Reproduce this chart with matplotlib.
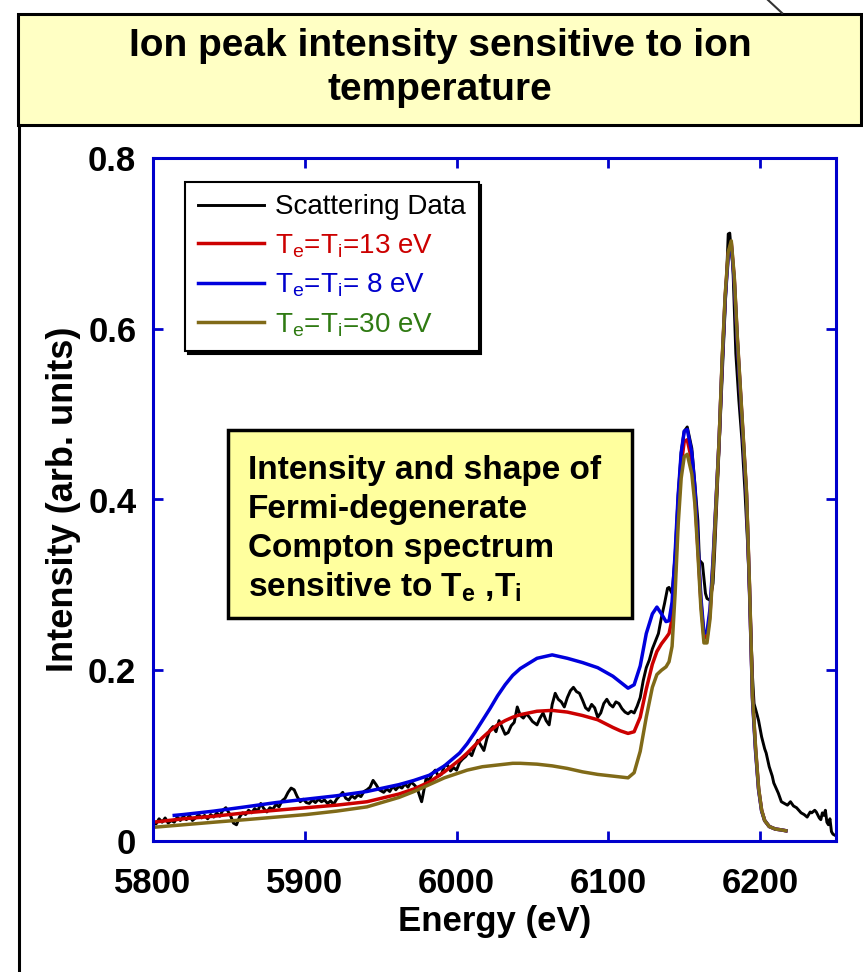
import matplotlib
matplotlib.use('Agg')
import matplotlib.pyplot as plt
from matplotlib.patches import Rectangle
from matplotlib.lines import Line2D

plt.rcParams['font.family'] = 'Liberation Sans'
plt.rcParams['mathtext.fontset'] = 'custom'
plt.rcParams['mathtext.rm'] = 'Liberation Sans'
plt.rcParams['mathtext.bf'] = 'Liberation Sans:bold'

# measured spectrum (eV, arb. units)
energy_data = [
    5800, 5802, 5804, 5806, 5808, 5810, 5812, 5814, 5816, 5818, 5820, 5822, 5824, 5826, 5828,
    5830, 5832, 5834, 5836, 5838, 5840, 5842, 5844, 5846, 5848, 5851, 5853, 5855, 5857, 5859,
    5861, 5863, 5865, 5867, 5869, 5871, 5873, 5875, 5877, 5879, 5881, 5883, 5885, 5887, 5889,
    5891, 5893, 5895, 5897, 5899, 5901, 5903, 5905, 5907, 5909, 5911, 5913, 5915, 5917, 5919,
    5921, 5923, 5925, 5927, 5929, 5931, 5933, 5935, 5937, 5939, 5941, 5943, 5945, 5947, 5949,
    5952, 5954, 5956, 5958, 5960, 5962, 5964, 5966, 5968, 5970, 5972, 5974, 5976, 5977, 5978,
    5980, 5982, 5984, 5986, 5988, 5990, 5992, 5994, 5996, 5998, 6000, 6002, 6004, 6006, 6008,
    6010, 6012, 6014, 6016, 6018, 6020, 6022, 6024, 6026, 6028, 6030, 6032, 6034, 6036, 6038,
    6040, 6042, 6044, 6046, 6048, 6050, 6053, 6055, 6057, 6059, 6061, 6063, 6065, 6067, 6069,
    6071, 6073, 6075, 6077, 6079, 6081, 6083, 6085, 6087, 6089, 6091, 6093, 6095, 6097, 6099,
    6101, 6103, 6105, 6107, 6109, 6111, 6113, 6115, 6117, 6119, 6121, 6123, 6125, 6127, 6129,
    6131, 6133, 6135, 6137, 6139, 6140, 6142, 6144, 6146, 6148, 6150, 6152, 6155, 6157, 6159,
    6160, 6162, 6164, 6165, 6167, 6169, 6170, 6172, 6174, 6176, 6178, 6179, 6180, 6181, 6182,
    6184, 6186, 6188, 6190, 6192, 6194, 6195, 6196, 6198, 6199, 6201, 6203, 6204, 6206, 6208,
    6209, 6211, 6212, 6214, 6216, 6218, 6220, 6222, 6224, 6226, 6227, 6229, 6231, 6233, 6234,
    6236, 6237, 6239, 6240, 6241, 6242, 6243, 6244, 6245, 6246, 6247, 6248, 6250, 6252]
intensity_data = [
    0.024, 0.020, 0.026, 0.022, 0.027, 0.021, 0.024, 0.022, 0.028, 0.024, 0.029, 0.025, 0.030, 0.024, 0.027,
    0.031, 0.027, 0.030, 0.026, 0.031, 0.028, 0.033, 0.029, 0.036, 0.039, 0.030, 0.021, 0.019, 0.028, 0.033,
    0.031, 0.036, 0.033, 0.038, 0.035, 0.044, 0.038, 0.034, 0.039, 0.037, 0.043, 0.040, 0.047, 0.050, 0.057,
    0.062, 0.060, 0.052, 0.046, 0.049, 0.045, 0.044, 0.048, 0.045, 0.049, 0.046, 0.048, 0.044, 0.047, 0.043,
    0.049, 0.053, 0.057, 0.050, 0.048, 0.053, 0.050, 0.054, 0.052, 0.058, 0.060, 0.063, 0.071, 0.066, 0.060,
    0.057, 0.061, 0.058, 0.064, 0.060, 0.064, 0.062, 0.067, 0.063, 0.069, 0.066, 0.062, 0.051, 0.046, 0.055,
    0.074, 0.071, 0.079, 0.083, 0.076, 0.078, 0.088, 0.089, 0.082, 0.086, 0.083, 0.092, 0.096, 0.099, 0.104,
    0.100, 0.110, 0.118, 0.112, 0.106, 0.120, 0.130, 0.134, 0.128, 0.141, 0.133, 0.125, 0.127, 0.135, 0.139,
    0.157, 0.147, 0.144, 0.149, 0.145, 0.140, 0.136, 0.144, 0.150, 0.141, 0.136, 0.160, 0.173, 0.166, 0.163,
    0.157, 0.168, 0.176, 0.180, 0.175, 0.173, 0.165, 0.156, 0.153, 0.160, 0.156, 0.145, 0.150, 0.161, 0.166,
    0.160, 0.157, 0.163, 0.161, 0.155, 0.151, 0.149, 0.152, 0.150, 0.158, 0.168, 0.188, 0.203, 0.212, 0.225,
    0.234, 0.243, 0.262, 0.278, 0.296, 0.297, 0.290, 0.335, 0.405, 0.455, 0.480, 0.485, 0.460, 0.419, 0.375,
    0.329, 0.325, 0.290, 0.284, 0.282, 0.302, 0.337, 0.420, 0.500, 0.585, 0.665, 0.711, 0.712, 0.690, 0.676,
    0.571, 0.516, 0.470, 0.410, 0.340, 0.240, 0.192, 0.161, 0.148, 0.141, 0.122, 0.108, 0.103, 0.087, 0.076,
    0.068, 0.060, 0.056, 0.046, 0.044, 0.042, 0.046, 0.041, 0.039, 0.035, 0.033, 0.031, 0.028, 0.034, 0.033,
    0.036, 0.034, 0.027, 0.025, 0.033, 0.030, 0.036, 0.022, 0.019, 0.026, 0.011, 0.008, 0.006, 0.004]

# calculated spectra, Te = Ti = 13, 8 and 30 eV
energy_fit = [
    5800, 5820, 5840, 5861, 5881, 5901, 5921, 5941, 5962, 5972, 5982, 5992, 6002, 6007, 6012,
    6017, 6022, 6027, 6032, 6037, 6042, 6053, 6063, 6073, 6083, 6093, 6103, 6108, 6113, 6117,
    6121, 6125, 6129, 6132, 6135, 6138, 6140, 6142, 6144, 6146, 6148, 6150, 6152, 6155, 6157,
    6159, 6161, 6163, 6165, 6167, 6169, 6171, 6173, 6175, 6177, 6179, 6181, 6183, 6185, 6187,
    6189, 6191, 6193, 6195, 6197, 6199, 6201, 6203, 6206, 6210, 6214, 6217]
fit_13ev = [
    0.022, 0.026, 0.029, 0.033, 0.036, 0.039, 0.042, 0.046, 0.055, 0.061, 0.069, 0.081, 0.095, 0.103, 0.112,
    0.121, 0.129, 0.136, 0.141, 0.145, 0.148, 0.152, 0.153, 0.151, 0.147, 0.142, 0.133, 0.129, 0.126, 0.128,
    0.145, 0.178, 0.207, 0.222, 0.231, 0.238, 0.243, 0.260, 0.310, 0.385, 0.440, 0.468, 0.470, 0.445, 0.405,
    0.343, 0.280, 0.238, 0.238, 0.266, 0.325, 0.398, 0.470, 0.562, 0.638, 0.688, 0.701, 0.658, 0.588, 0.528,
    0.468, 0.408, 0.298, 0.168, 0.108, 0.061, 0.036, 0.024, 0.017, 0.014, 0.013, 0.012]
energy_fit_8ev = [5814] + energy_fit[1:]
fit_8ev = [
    0.030, 0.031, 0.035, 0.040, 0.045, 0.049, 0.053, 0.058, 0.066, 0.071, 0.077, 0.088, 0.103, 0.114, 0.127,
    0.141, 0.155, 0.170, 0.183, 0.194, 0.202, 0.214, 0.218, 0.214, 0.209, 0.203, 0.193, 0.186, 0.179, 0.183,
    0.205, 0.243, 0.266, 0.274, 0.266, 0.257, 0.258, 0.280, 0.337, 0.405, 0.455, 0.480, 0.482, 0.455, 0.414,
    0.350, 0.285, 0.243, 0.245, 0.272, 0.330, 0.400, 0.470, 0.560, 0.635, 0.685, 0.698, 0.655, 0.585, 0.525,
    0.465, 0.405, 0.295, 0.165, 0.105, 0.060, 0.035, 0.024, 0.017, 0.014, 0.013, 0.012]
fit_30ev = [
    0.016, 0.019, 0.022, 0.025, 0.028, 0.031, 0.035, 0.040, 0.051, 0.058, 0.066, 0.074, 0.080, 0.083, 0.085,
    0.087, 0.088, 0.089, 0.090, 0.091, 0.091, 0.090, 0.088, 0.085, 0.081, 0.078, 0.076, 0.075, 0.074, 0.080,
    0.105, 0.145, 0.180, 0.195, 0.200, 0.204, 0.210, 0.228, 0.290, 0.370, 0.425, 0.450, 0.453, 0.430, 0.395,
    0.337, 0.272, 0.232, 0.232, 0.260, 0.320, 0.395, 0.470, 0.565, 0.640, 0.690, 0.703, 0.660, 0.590, 0.530,
    0.470, 0.410, 0.300, 0.170, 0.110, 0.062, 0.036, 0.024, 0.017, 0.014, 0.013, 0.012]

labels = ['Scattering Data',
          r'T$_\mathrm{e}$=T$_\mathrm{i}$=13 eV',
          r'T$_\mathrm{e}$=T$_\mathrm{i}$= 8 eV',
          r'T$_\mathrm{e}$=T$_\mathrm{i}$=30 eV']
line_colors = ['black', '#CC0000', '#0000DD', '#806A18']
text_colors = ['black', '#CC0000', '#0000CC', '#2F7A12']

W, H = 863, 972
fig = plt.figure(figsize=(W / 100, H / 100), dpi=100)


def fx(px):
    return px / W


def fy(py):
    return 1 - py / H


# title banner and page frame
fig.add_artist(Rectangle((fx(18), fy(125)), fx(861) - fx(18), fy(14) - fy(125),
                         transform=fig.transFigure, facecolor='#FFFFC4', edgecolor='black', lw=2.2))
fig.add_artist(Line2D([fx(19), fx(19)], [fy(125), 0], color='black', lw=2.2))
fig.add_artist(Line2D([fx(768), fx(782)], [1, fy(13)], color='#333333', lw=1.5))
fig.text(fx(440), fy(68), 'Ion peak intensity sensitive to ion\ntemperature',
         ha='center', va='center', fontsize=28, fontweight='bold', linespacing=1.3)

ax = fig.add_axes([fx(153), fy(841), fx(836) - fx(153), fy(158) - fy(841)])

ax.plot(energy_data, intensity_data, color=line_colors[0], lw=2.1, label=labels[0])
ax.plot(energy_fit, fit_13ev, color=line_colors[1], lw=2.5, label=labels[1])
ax.plot(energy_fit_8ev, fit_8ev, color=line_colors[2], lw=2.5, label=labels[2])
ax.plot(energy_fit, fit_30ev, color=line_colors[3], lw=2.5, label=labels[3])

ax.set_xlim(5800, 6250)
ax.set_ylim(0, 0.8)
ax.set_xticks([5800, 5900, 6000, 6100, 6200])
ax.set_yticks([0, 0.2, 0.4, 0.6, 0.8], ['0', '0.2', '0.4', '0.6', '0.8'])
ax.tick_params(direction='in', length=7, width=2, color='#0000CC', top=True, right=True,
               labelsize=25)
ax.tick_params(axis='x', pad=19)
ax.tick_params(axis='y', pad=12)
for lab in ax.get_xticklabels() + ax.get_yticklabels():
    lab.set_fontweight('bold')
for sp in ax.spines.values():
    sp.set_color('#0000CC')
    sp.set_linewidth(2.2)

ax.set_xlabel('Energy (eV)', fontsize=25, fontweight='bold', labelpad=3)
ax.set_ylabel('Intensity (arb. units)', fontsize=26, fontweight='bold', labelpad=5)

leg = ax.legend(loc='upper left', bbox_to_anchor=((185 - 153) / 683, (841 - 182) / 683),
                borderaxespad=0, fontsize=20, handlelength=2.4, handletextpad=0.4,
                labelspacing=0.42, borderpad=0.45, fancybox=False, edgecolor='black',
                framealpha=1, shadow={'color': 'black', 'alpha': 1}, labelcolor=text_colors)
leg.get_frame().set_linewidth(1.5)

# note box over the Compton feature
fig.add_artist(Rectangle((fx(228), fy(618)), fx(632) - fx(228), fy(430) - fy(618),
                         transform=fig.transFigure, facecolor='#FFFF9E', edgecolor='black', lw=2.5))
note_lines = ['Intensity and shape of', 'Fermi-degenerate', 'Compton spectrum',
              r'sensitive to T$_\mathbf{e}$ ,T$_\mathbf{i}$']
for i, txt in enumerate(note_lines):
    fig.text(fx(248), fy(479 + 39 * i), txt, fontsize=24, fontweight='bold', va='baseline')

ax.annotate('', xy=(6059, 0.255), xytext=(6059, 0.302),
            arrowprops=dict(arrowstyle='-|>,head_length=0.8,head_width=0.35', color='red',
                            lw=2, mutation_scale=20))

fig.savefig('out.png', dpi=100)
